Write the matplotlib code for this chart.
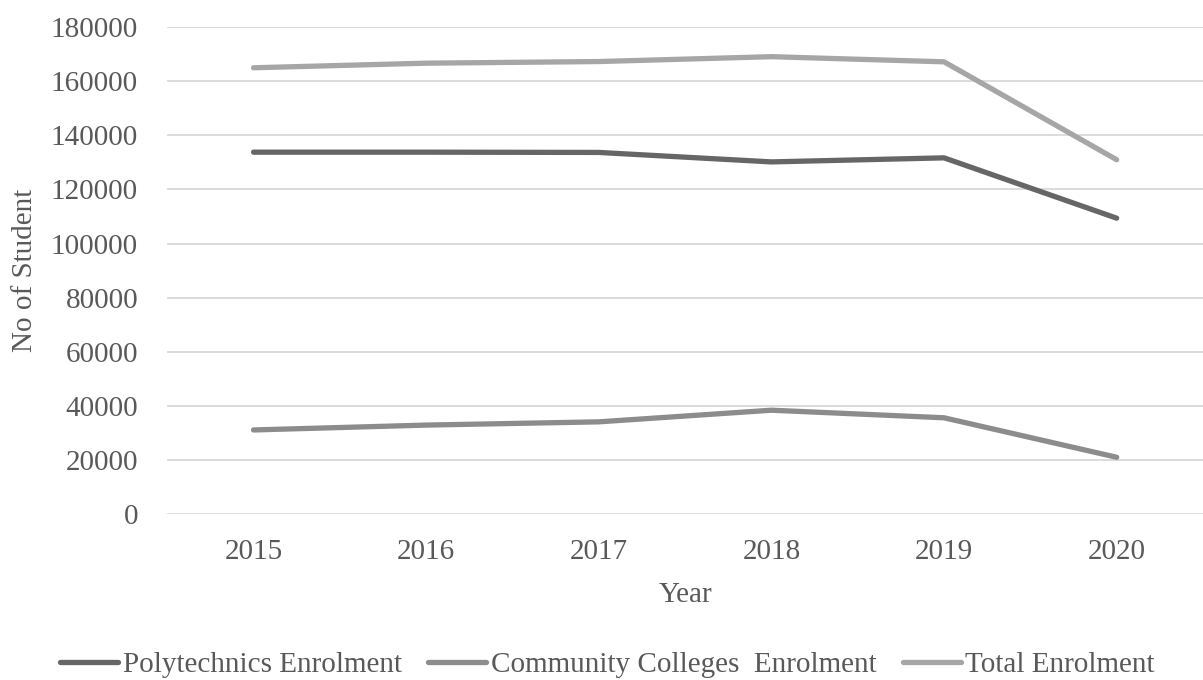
import matplotlib.pyplot as plt

years = ['2015', '2016', '2017', '2018', '2019', '2020']
poly = [133800, 133800, 133700, 130200, 131700, 109400]
community = [31100, 32900, 34100, 38400, 35600, 21000]
total = [165000, 166700, 167300, 169100, 167200, 131000]

plt.rcParams['font.family'] = ['Liberation Serif', 'DejaVu Serif']

fig = plt.figure(figsize=(12.03, 6.8), dpi=100)
ax = fig.add_axes([0.139, 0.244, 0.861, 0.716])

x = range(len(years))
ax.plot(x, poly, color='#666666', lw=3.8, solid_capstyle='round', label='Polytechnics Enrolment')
ax.plot(x, community, color='#8c8c8c', lw=3.8, solid_capstyle='round', label='Community Colleges  Enrolment')
ax.plot(x, total, color='#a6a6a6', lw=3.8, solid_capstyle='round', label='Total Enrolment')

ax.set_xlim(-0.5, len(years) - 0.5)
ax.set_ylim(0, 180000)
ax.set_yticks(range(0, 180001, 20000))
ax.set_xticks(list(x))
ax.set_xticklabels(years)
ax.yaxis.grid(True, color='#d9d9d9', lw=1.3)
ax.set_axisbelow(True)
for s in ax.spines.values():
    s.set_visible(False)
ax.tick_params(length=0, labelsize=21, labelcolor='#595959')
ax.tick_params(axis='x', pad=18)
ax.tick_params(axis='y', pad=21)

ax.set_xlabel('Year', fontsize=21, color='#595959', labelpad=12)
ax.set_ylabel('No of Student', fontsize=21, color='#595959', labelpad=9)

fig.legend(loc='center', bbox_to_anchor=(0.505, 1 - 665 / 680), ncol=3, frameon=False,
           fontsize=21, labelcolor='#595959', handlelength=2.0, handletextpad=0.15,
           columnspacing=0.9, borderpad=0)

fig.savefig('out.png', dpi=100)
